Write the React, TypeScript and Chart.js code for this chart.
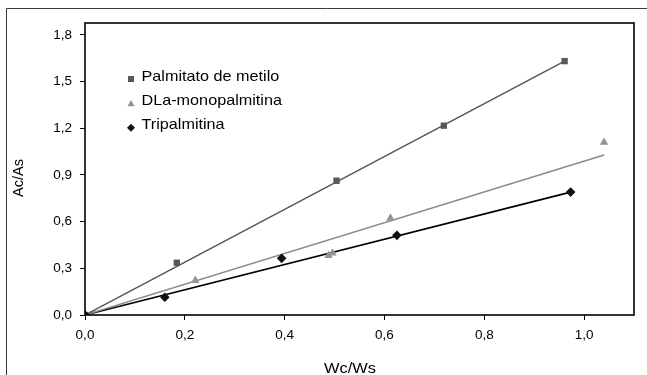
import React, { useEffect, useRef } from 'react';
import { Chart, registerables } from 'chart.js';

Chart.register(...registerables);

// ---- data ----
const seriesNames = ['Palmitato de metilo', 'DLa-monopalmitina', 'Tripalmitina'];

const palmitatoX = [0, 0.184, 0.504, 0.719, 0.961];
const palmitatoY = [0, 0.336, 0.863, 1.217, 1.632];

const dlaX = [0, 0.221, 0.488, 0.496, 0.612, 1.04];
const dlaY = [0, 0.222, 0.382, 0.398, 0.622, 1.11];

const tripalX = [0, 0.16, 0.394, 0.625, 0.973];
const tripalY = [0, 0.114, 0.364, 0.512, 0.79];

// trend line end points (start at origin)
const trendStartX = [0, 0, 0];
const trendStartY = [0, 0, 0];
const trendEndX = [0.961, 1.04, 0.973];
const trendEndY = [1.632, 1.028, 0.79];

const xTicks = [0, 0.2, 0.4, 0.6, 0.8, 1.0];
const yTicks = [0, 0.3, 0.6, 0.9, 1.2, 1.5, 1.8];
const xRange = [0, 1.1];
const yRange = [0, 1.877];
const xTitle = 'Wc/Ws';
const yTitle = 'Ac/As';

// ---- styles ----
const FONT = '"Liberation Sans", Arial, sans-serif';
const colors = ['#585858', '#939393', '#111111'];
const lineColors = ['#555555', '#8a8a8a', '#000000'];
const pointStyles = ['rect', 'triangle', 'rectRot'] as const;
const pointRadii = [4.5, 4.9, 4.8];

const fmt = (v: number) => v.toFixed(1).replace('.', ',');

function stretchText(
  ctx: CanvasRenderingContext2D,
  text: string,
  x: number,
  y: number,
  sx: number,
  font: string,
  align: CanvasTextAlign,
  baseline: CanvasTextBaseline,
  rotate = 0
) {
  ctx.save();
  ctx.translate(x, y);
  if (rotate) ctx.rotate(rotate);
  ctx.scale(sx, 1);
  ctx.font = font;
  ctx.textAlign = align;
  ctx.textBaseline = baseline;
  ctx.fillStyle = '#000';
  ctx.fillText(text, 0, 0);
  ctx.restore();
}

function drawMarker(ctx: CanvasRenderingContext2D, kind: number, cx: number, cy: number, color: string) {
  ctx.save();
  ctx.fillStyle = color;
  ctx.beginPath();
  if (kind === 0) {
    ctx.rect(cx - 3, cy - 3, 6, 6);
  } else if (kind === 1) {
    ctx.moveTo(cx, cy - 3.5);
    ctx.lineTo(cx + 3.5, cy + 2.8);
    ctx.lineTo(cx - 3.5, cy + 2.8);
    ctx.closePath();
  } else {
    ctx.moveTo(cx, cy - 4);
    ctx.lineTo(cx + 4, cy);
    ctx.lineTo(cx, cy + 4);
    ctx.lineTo(cx - 4, cy);
    ctx.closePath();
  }
  ctx.fill();
  ctx.restore();
}

const decorPlugin = {
  id: 'decor',
  beforeDraw(chart: any) {
    const ctx = chart.ctx as CanvasRenderingContext2D;
    ctx.save();
    ctx.strokeStyle = '#3a3a3a';
    ctx.lineWidth = 1;
    ctx.beginPath();
    ctx.moveTo(6.5, 380);
    ctx.lineTo(6.5, 8.5);
    ctx.lineTo(660, 8.5);
    ctx.stroke();
    ctx.restore();
  },
  afterDatasetsDraw(chart: any) {
    const ctx = chart.ctx as CanvasRenderingContext2D;
    const a = chart.chartArea;
    ctx.save();
    ctx.strokeStyle = '#000';
    ctx.lineWidth = 1.6;
    ctx.strokeRect(a.left, a.top, a.right - a.left, a.bottom - a.top);
    ctx.restore();

    // legend
    const rows = [57.5, 82, 106.3];
    for (let i = 0; i < seriesNames.length; i++) {
      const by = a.top + rows[i];
      drawMarker(ctx, i, a.left + 46, by - 1.5, colors[i]);
      stretchText(ctx, seriesNames[i], a.left + 56.5, by, 1.08, `15px ${FONT}`, 'left', 'alphabetic');
    }

    // axis titles
    stretchText(ctx, xTitle, 350, 373, 1.06, `15.5px ${FONT}`, 'center', 'alphabetic');
    stretchText(ctx, yTitle, 23, 178, 1.0, `14.5px ${FONT}`, 'center', 'alphabetic', -Math.PI / 2);
  },
};

export default function App() {
  const ref = useRef<HTMLCanvasElement | null>(null);

  useEffect(() => {
    if (!ref.current) return;
    const xs = [palmitatoX, dlaX, tripalX];
    const ys = [palmitatoY, dlaY, tripalY];

    const pointSets = [2, 1, 0].map((i) => ({
      label: seriesNames[i],
      data: xs[i].map((x, k) => ({ x, y: ys[i][k] })),
      pointStyle: pointStyles[i],
      pointRadius: pointRadii[i],
      pointBackgroundColor: colors[i],
      pointBorderColor: colors[i],
      pointBorderWidth: 0,
      showLine: false,
      order: 1,
    }));

    const trendSets = [0, 1, 2].map((i) => ({
      label: seriesNames[i] + ' (tendencia)',
      data: [
        { x: trendStartX[i], y: trendStartY[i] },
        { x: trendEndX[i], y: trendEndY[i] },
      ],
      borderColor: lineColors[i],
      borderWidth: i === 2 ? 1.6 : 1.5,
      pointRadius: 0,
      showLine: true,
      fill: false,
      order: 2,
    }));

    const chart = new Chart(ref.current, {
      type: 'scatter',
      data: { datasets: [...pointSets, ...trendSets] as any },
      options: {
        animation: false,
        responsive: false,
        maintainAspectRatio: false,
        layout: { padding: { left: 0, top: 23, right: 13, bottom: 0 } },
        plugins: { legend: { display: false }, tooltip: { enabled: false }, title: { display: false } },
        scales: {
          x: {
            type: 'linear',
            min: xRange[0],
            max: xRange[1],
            afterBuildTicks: (s: any) => {
              s.ticks = xTicks.map((value) => ({ value }));
            },
            afterFit: (s: any) => {
              s.height = 60;
            },
            ticks: {
              callback: (v: any) => fmt(Number(v)),
              autoSkip: false,
              maxRotation: 0,
              color: '#000',
              padding: 7,
              font: { family: FONT, size: 13.5 },
            },
            grid: { drawOnChartArea: false, drawTicks: true, tickLength: 5, color: '#000', lineWidth: 1 },
            border: { display: false },
          },
          y: {
            type: 'linear',
            min: yRange[0],
            max: yRange[1],
            afterBuildTicks: (s: any) => {
              s.ticks = yTicks.map((value) => ({ value }));
            },
            afterFit: (s: any) => {
              s.width = 85;
            },
            ticks: {
              callback: (v: any) => fmt(Number(v)),
              autoSkip: false,
              color: '#000',
              padding: 8,
              font: { family: FONT, size: 13.5 },
            },
            grid: { drawOnChartArea: false, drawTicks: true, tickLength: 5, color: '#000', lineWidth: 1 },
            border: { display: false },
          },
        },
      },
      plugins: [decorPlugin],
    });
    return () => chart.destroy();
  }, []);

  return (
    <div style={{ position: 'fixed', left: 0, top: 0, width: 647, height: 375, background: '#fff' }}>
      <canvas ref={ref} width={647} height={375} />
    </div>
  );
}
